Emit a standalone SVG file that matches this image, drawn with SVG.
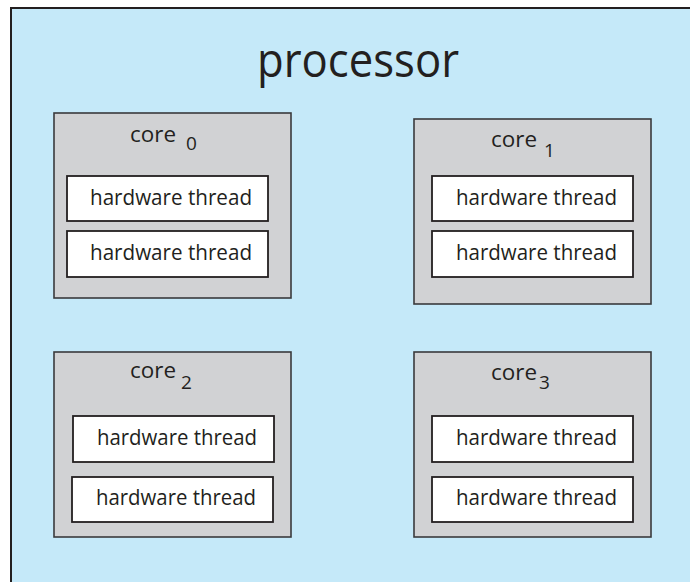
<svg xmlns="http://www.w3.org/2000/svg" width="690" height="582" viewBox="0 0 690 582">
  <style>
    .frame { fill: #c5e9f9; stroke: #231f20; stroke-width: 2; }
    .core { fill: #d1d2d4; stroke: #3a3a3c; stroke-width: 1.6; }
    .thread { fill: #ffffff; stroke: #231f20; stroke-width: 1.8; }
    text { font-family: "Open Sans", "Noto Sans", sans-serif; fill: #231f20; }
    .title { font-size: 47px; }
    .label { font-size: 22.5px; }
    .sub { font-size: 19px; }
    .ht { font-size: 21.5px; }
  </style>

  <!-- processor outline (runs past the right and bottom edges) -->
  <g id="processor">
    <rect class="frame" x="11" y="8" width="700" height="600"/>
    <text class="title" x="257" y="77" textLength="202" lengthAdjust="spacingAndGlyphs">processor</text>
  </g>

  <g id="core0">
    <rect class="core" x="54" y="113" width="237" height="185"/>
    <text class="label" x="130" y="142" textLength="46" lengthAdjust="spacingAndGlyphs">core</text>
    <text class="sub" x="186" y="150">0</text>
    <rect class="thread" x="67" y="176" width="201" height="45"/>
    <text class="ht" x="90" y="205" textLength="162" lengthAdjust="spacingAndGlyphs">hardware thread</text>
    <rect class="thread" x="67" y="231" width="201" height="46"/>
    <text class="ht" x="90" y="260" textLength="162" lengthAdjust="spacingAndGlyphs">hardware thread</text>
  </g>

  <g id="core1">
    <rect class="core" x="414" y="119" width="237" height="185"/>
    <text class="label" x="491" y="147" textLength="46" lengthAdjust="spacingAndGlyphs">core</text>
    <text class="sub" x="544" y="157">1</text>
    <rect class="thread" x="432" y="176" width="201" height="45"/>
    <text class="ht" x="456" y="205" textLength="161" lengthAdjust="spacingAndGlyphs">hardware thread</text>
    <rect class="thread" x="432" y="231" width="201" height="46"/>
    <text class="ht" x="456" y="260" textLength="161" lengthAdjust="spacingAndGlyphs">hardware thread</text>
  </g>

  <g id="core2">
    <rect class="core" x="54" y="352" width="237" height="185"/>
    <text class="label" x="130" y="378" textLength="46" lengthAdjust="spacingAndGlyphs">core</text>
    <text class="sub" x="181" y="389">2</text>
    <rect class="thread" x="73" y="416" width="201" height="46"/>
    <text class="ht" x="97" y="445" textLength="160" lengthAdjust="spacingAndGlyphs">hardware thread</text>
    <rect class="thread" x="72" y="477" width="201" height="45"/>
    <text class="ht" x="96" y="505" textLength="160" lengthAdjust="spacingAndGlyphs">hardware thread</text>
  </g>

  <g id="core3">
    <rect class="core" x="414" y="352" width="237" height="185"/>
    <text class="label" x="491" y="380" textLength="46" lengthAdjust="spacingAndGlyphs">core</text>
    <text class="sub" x="539" y="389">3</text>
    <rect class="thread" x="432" y="416" width="201" height="46"/>
    <text class="ht" x="456" y="445" textLength="161" lengthAdjust="spacingAndGlyphs">hardware thread</text>
    <rect class="thread" x="432" y="477" width="201" height="45"/>
    <text class="ht" x="456" y="505" textLength="161" lengthAdjust="spacingAndGlyphs">hardware thread</text>
  </g>

  <!-- no connectors in this figure -->
  <g id="connectors"/>
</svg>
